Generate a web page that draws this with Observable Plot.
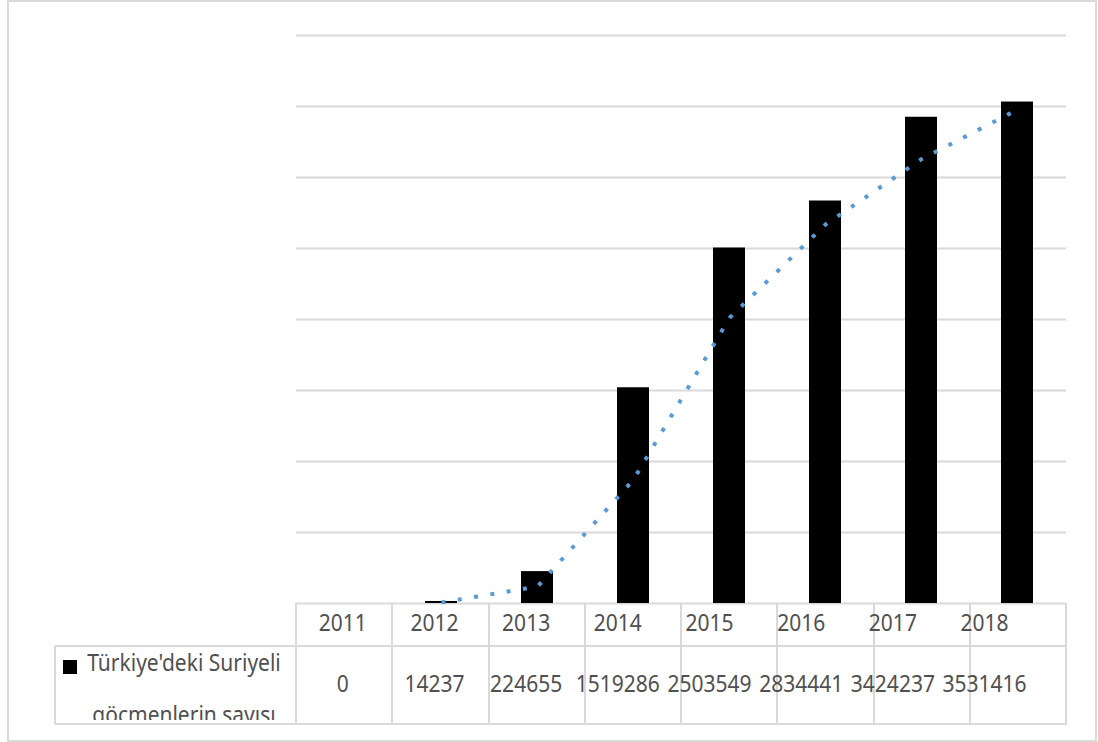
<!DOCTYPE html>
<html>
<head>
<meta charset="utf-8">
<script src="https://cdn.jsdelivr.net/npm/d3@7"></script>
<script src="https://cdn.jsdelivr.net/npm/@observablehq/plot@0.6"></script>
<style>
  body { margin: 0; background: #fff; }
  #wrap { position: relative; width: 1098px; height: 742px; overflow: hidden; background: #fff;
          font-family: "Noto Sans", "Open Sans", sans-serif; color: #505050; }
  #frame { position: absolute; left: 7px; top: 0; width: 1090px; height: 742px;
           border: 2px solid #d9d9d9; box-sizing: border-box; }
  #chart { position: absolute; left: 0; top: 0; }
  .hl, .vl { position: absolute; background: #d9d9d9; }
  .hl { height: 2px; }
  .vl { width: 2px; }
  .t { position: absolute; font-size: 21px; line-height: 21px; white-space: nowrap;
       transform: translate(-50%, -50%) scaleY(1.1); }
  #legend { position: absolute; left: 57px; top: 648px; width: 239px; height: 72px; overflow: hidden; }
  #legend .sw { position: absolute; left: 6px; top: 12px; width: 14px; height: 14px; background: #000; }
  #legend .ln { position: absolute; font-size: 21px; line-height: 21px; white-space: nowrap;
                transform: translateX(-50%) scaleY(1.1); }
</style>
</head>
<body>
<div id="wrap">
  <div id="frame"></div>
  <div id="chart"></div>
  <div id="table"></div>
</div>
<script>
// ---- data ----
const years = ["2011", "2012", "2013", "2014", "2015", "2016", "2017", "2018"];
const migrants = [0, 14237, 224655, 1519286, 2503549, 2834441, 3424237, 3531416];
// dotted trend line (starts at 2012)
const trendYears = ["2012", "2013", "2014", "2015", "2016", "2017", "2018"];
const trendValues = [7100, 119400, 872000, 2011000, 2669000, 3129000, 3478000];
const gridTicks = [0, 500000, 1000000, 1500000, 2000000, 2500000, 3000000, 3500000, 4000000];
const seriesLabel = ["Türkiye'deki Suriyeli", "göçmenlerin sayısı"];

const bars = years.map((y, i) => ({year: y, value: migrants[i]}));
const trend = trendYears.map((y, i) => ({year: y, value: trendValues[i]}));

const W = 1098, H = 742;
const plot = Plot.plot({
  width: W, height: H,
  marginLeft: 296, marginRight: 32, marginTop: 35, marginBottom: 139,
  style: {background: "transparent", overflow: "visible"},
  x: {domain: years, paddingInner: 0.667, paddingOuter: 0.3335, axis: null},
  y: {domain: [0, 4000000], axis: null},
  marks: [
    Plot.ruleY(gridTicks, {stroke: "#d9d9d9", strokeWidth: 2}),
    Plot.barY(bars, {x: "year", y: "value", fill: "#000"}),
    Plot.line(trend, {x: "year", y: "value", stroke: "#5B9BD5", strokeWidth: 4,
                      strokeDasharray: "4 12.5", strokeLinecap: "butt"})
  ]
});
document.getElementById("chart").appendChild(plot);

// ---- data table under the chart, laid out from the x scale ----
const xs = plot.scale("x");
const ys = plot.scale("y");
const x0 = xs.range[0], x1 = xs.range[1];
const step = (x1 - x0) / years.length;
const yTop = ys.apply(0);          // table top = baseline
const yMid = yTop + 43;            // between year row and value row
const yBot = yMid + 78;            // table bottom
const legendLeft = 55;
const textScale = 0.955;           // labels in the picture are slightly compressed
const table = document.getElementById("table");
function add(cls, css, text) {
  const d = document.createElement("div");
  d.className = cls;
  Object.assign(d.style, css);
  if (text != null) d.textContent = text;
  table.appendChild(d);
  return d;
}
add("hl", {left: legendLeft + "px", top: (yMid - 1) + "px", width: (x1 - legendLeft + 1) + "px"});
add("hl", {left: legendLeft + "px", top: (yBot - 1) + "px", width: (x1 - legendLeft + 1) + "px"});
add("vl", {left: (legendLeft - 1) + "px", top: yMid + "px", height: (yBot - yMid) + "px"});
for (let i = 0; i <= years.length; i++) {
  add("vl", {left: (x0 + i * step - 1) + "px", top: yTop + "px", height: (yBot - yTop) + "px"});
}
years.forEach((yr, i) => {
  const cx = xs.apply(yr) + xs.bandwidth / 2;
  const tx = x0 + (cx - x0) * textScale;
  add("t", {left: tx + "px", top: (yTop + 20) + "px"}, yr);
  add("t", {left: tx + "px", top: (yMid + 38) + "px"}, String(migrants[i]));
});
const lg = document.createElement("div");
lg.id = "legend";
lg.innerHTML = '<div class="sw"></div>';
seriesLabel.forEach((s, i) => {
  const l = document.createElement("div");
  l.className = "ln";
  l.textContent = s;
  Object.assign(l.style, {left: "127px", top: (4 + i * 52) + "px"});
  lg.appendChild(l);
});
table.appendChild(lg);
</script>
</body>
</html>
